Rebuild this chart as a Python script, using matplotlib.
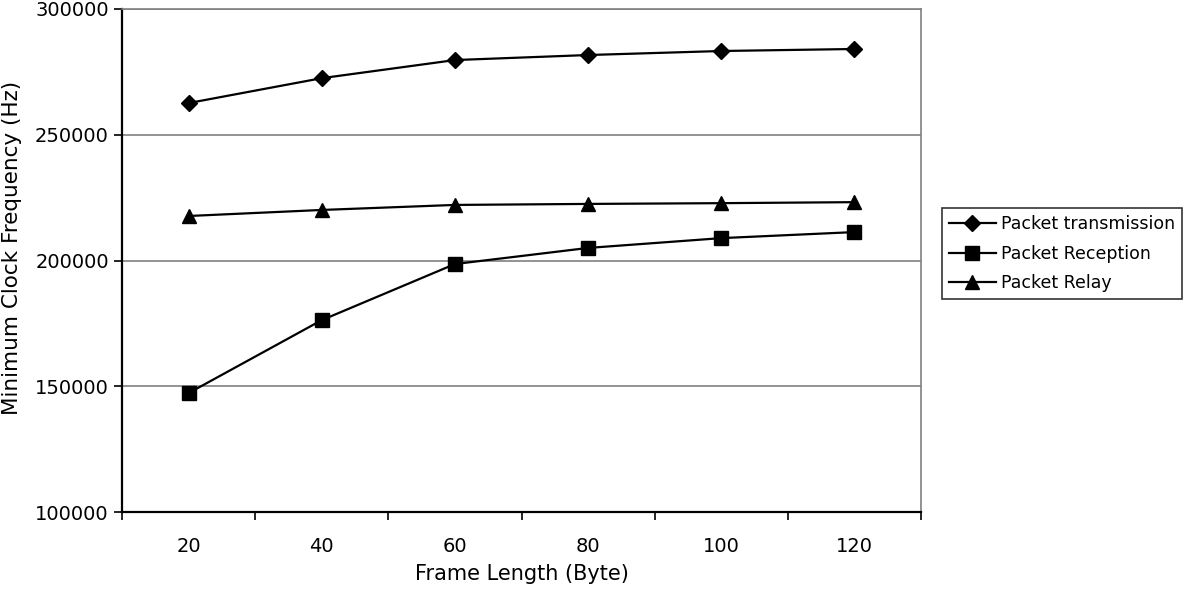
import numpy as np
import matplotlib.pyplot as plt

plt.rcParams['font.family'] = ['DejaVu Sans']

frame_len = ['20', '40', '60', '80', '100', '120']
transmission = [262600, 272500, 279700, 281700, 283300, 284100]
reception = [147300, 176300, 198600, 205000, 208900, 211300]
relay = [217700, 220100, 222100, 222500, 222800, 223200]

fig = plt.figure(figsize=(12, 5.92), dpi=100)
ax = fig.add_axes([0.1017, 0.1351, 0.6658, 0.8497])

x = np.arange(len(frame_len))
ax.plot(x, transmission, color='black', lw=1.6, marker='D', ms=8, label='Packet transmission')
ax.plot(x, reception, color='black', lw=1.6, marker='s', ms=10, label='Packet Reception')
ax.plot(x, relay, color='black', lw=1.6, marker='^', ms=10, label='Packet Relay')

ax.set_xlim(-0.5, len(frame_len) - 0.5)
ax.set_ylim(100000, 300000)
ax.set_yticks([100000, 150000, 200000, 250000, 300000])
ax.yaxis.grid(True, color='#808080', lw=1.2)
ax.set_axisbelow(True)

ax.set_xticks(x)
ax.set_xticklabels(frame_len)
ax.set_xticks(np.arange(-0.5, len(frame_len)), minor=True)
ax.tick_params(axis='x', which='major', length=0, pad=18, labelsize=14)
ax.tick_params(axis='x', which='minor', length=6, width=1.2, direction='out')
ax.tick_params(axis='y', length=6, width=1.2, direction='out', labelsize=14)

for s in ['left', 'bottom']:
    ax.spines[s].set_color('black')
    ax.spines[s].set_linewidth(1.6)
for s in ['top', 'right']:
    ax.spines[s].set_color('#808080')
    ax.spines[s].set_linewidth(1.2)

ax.set_xlabel('Frame Length (Byte)', fontsize=15, labelpad=6)
ax.set_ylabel('Minimum Clock Frequency (Hz)', fontsize=15.5, labelpad=6)
ax.yaxis.set_label_coords(-0.125, 0.525)

leg = fig.legend(loc='upper left', bbox_to_anchor=(0.785, 0.648), fontsize=12.5,
                 frameon=True, fancybox=False, edgecolor='black', handlelength=2.7,
                 borderpad=0.4, labelspacing=0.65, handletextpad=0.3, borderaxespad=0)
leg.get_frame().set_linewidth(1.2)

fig.savefig('out.png', dpi=100)
